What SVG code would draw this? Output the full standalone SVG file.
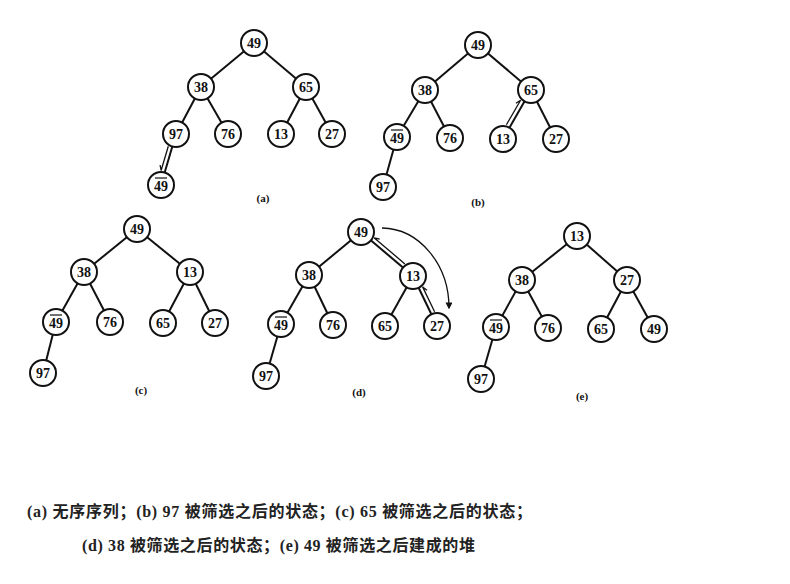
<svg xmlns="http://www.w3.org/2000/svg" width="790" height="584" viewBox="0 0 790 584">
<style>
.bg{fill:#ffffff}
.n circle{fill:#ffffff;stroke:#111;stroke-width:2}
.n text{font-family:"Liberation Serif","DejaVu Serif",serif;font-size:14px;font-weight:bold;fill:#111;text-anchor:middle;dominant-baseline:central}
.n line{stroke:#111;stroke-width:1.2}
.e line,.e path{stroke:#111;stroke-width:2;fill:none}
.e .thin{stroke-width:1.3}
.lbl{font-family:"Liberation Serif","DejaVu Serif",serif;font-size:11px;font-weight:bold;fill:#111;text-anchor:middle}
.cap{font-family:"Liberation Serif","Noto Sans CJK SC",serif;font-size:16px;font-weight:bold;fill:#222}
</style>
<defs>
<marker id="ah" viewBox="0 0 10 10" refX="8" refY="5" markerWidth="7" markerHeight="7" orient="auto" markerUnits="userSpaceOnUse"><path d="M0,0 L10,5 L0,10 z" fill="#111"/></marker>
</defs>
<rect class="bg" x="0" y="0" width="790" height="584"/>

<!-- connectors -->
<g id="connectors" class="e">
  <!-- (a) -->
  <line x1="254" y1="43" x2="201" y2="87"/>
  <line x1="254" y1="43" x2="306" y2="87"/>
  <line x1="201" y1="87" x2="176" y2="134"/>
  <line x1="201" y1="87" x2="228" y2="134"/>
  <line x1="306" y1="87" x2="281" y2="134"/>
  <line x1="306" y1="87" x2="332" y2="134"/>
  <line x1="176" y1="134" x2="161" y2="185"/>
  <path class="thin" d="M168.3,146.3 L161.1,170.5 L160.1,165"/>
  <!-- (b) -->
  <line x1="478" y1="45" x2="425" y2="90"/>
  <line x1="478" y1="45" x2="531" y2="90"/>
  <line x1="425" y1="90" x2="397" y2="137"/>
  <line x1="425" y1="90" x2="450" y2="138"/>
  <line x1="531" y1="90" x2="503" y2="139"/>
  <line x1="531" y1="90" x2="556" y2="139"/>
  <line x1="397" y1="137" x2="383" y2="187"/>
  <path class="thin" d="M506.4,124.8 L520.6,100.2 L515.9,103.3"/>
  <!-- (c) -->
  <line x1="137" y1="229" x2="84" y2="272"/>
  <line x1="137" y1="229" x2="190" y2="272"/>
  <line x1="84" y1="272" x2="56" y2="322"/>
  <line x1="84" y1="272" x2="110" y2="322"/>
  <line x1="190" y1="272" x2="163" y2="323"/>
  <line x1="190" y1="272" x2="215" y2="323"/>
  <line x1="56" y1="322" x2="43" y2="373"/>
  <!-- (d) -->
  <line x1="361" y1="232" x2="309" y2="275"/>
  <line x1="361" y1="232" x2="413" y2="276"/>
  <line x1="309" y1="275" x2="281" y2="324"/>
  <line x1="309" y1="275" x2="333" y2="325"/>
  <line x1="413" y1="276" x2="385" y2="326"/>
  <line x1="413" y1="276" x2="437" y2="326"/>
  <line x1="281" y1="324" x2="266" y2="376"/>
  <path class="thin" d="M379.7,239.2 L374.3,237.9 L404.9,263.9"/>
  <path class="thin" d="M427,290.3 L422.6,286.9 L434.6,311.7"/>
  <path class="thin" d="M382,228 A68,80 0 0 1 449,308" marker-end="url(#ah)"/>
  <!-- (e) -->
  <line x1="577" y1="236" x2="522" y2="280"/>
  <line x1="577" y1="236" x2="627" y2="280"/>
  <line x1="522" y1="280" x2="496" y2="327"/>
  <line x1="522" y1="280" x2="548" y2="328"/>
  <line x1="627" y1="280" x2="601" y2="329"/>
  <line x1="627" y1="280" x2="654" y2="329"/>
  <line x1="496" y1="327" x2="481" y2="379"/>
</g>

<!-- (a) nodes -->
<g id="a49" class="n"><circle cx="254" cy="43" r="13"/><text x="254" y="43">49</text></g>
<g id="a38" class="n"><circle cx="201" cy="87" r="13"/><text x="201" y="87">38</text></g>
<g id="a65" class="n"><circle cx="306" cy="87" r="13"/><text x="306" y="87">65</text></g>
<g id="a97" class="n"><circle cx="176" cy="134" r="13"/><text x="176" y="134">97</text></g>
<g id="a76" class="n"><circle cx="228" cy="134" r="13"/><text x="228" y="134">76</text></g>
<g id="a13" class="n"><circle cx="281" cy="134" r="13"/><text x="281" y="134">13</text></g>
<g id="a27" class="n"><circle cx="332" cy="134" r="13"/><text x="332" y="134">27</text></g>
<g id="a49b" class="n"><circle cx="161" cy="185" r="13"/><text x="161" y="186">49</text><line x1="155" y1="178" x2="167" y2="178"/></g>
<text class="lbl" x="263" y="202">(a)</text>

<!-- (b) nodes -->
<g id="b49" class="n"><circle cx="478" cy="45" r="13"/><text x="478" y="45">49</text></g>
<g id="b38" class="n"><circle cx="425" cy="90" r="13"/><text x="425" y="90">38</text></g>
<g id="b65" class="n"><circle cx="531" cy="90" r="13"/><text x="531" y="90">65</text></g>
<g id="b49b" class="n"><circle cx="397" cy="137" r="13"/><text x="397" y="138">49</text><line x1="391" y1="130" x2="403" y2="130"/></g>
<g id="b76" class="n"><circle cx="450" cy="138" r="13"/><text x="450" y="138">76</text></g>
<g id="b13" class="n"><circle cx="503" cy="139" r="13"/><text x="503" y="139">13</text></g>
<g id="b27" class="n"><circle cx="556" cy="139" r="13"/><text x="556" y="139">27</text></g>
<g id="b97" class="n"><circle cx="383" cy="187" r="13"/><text x="383" y="187">97</text></g>
<text class="lbl" x="478" y="206">(b)</text>

<!-- (c) nodes -->
<g id="c49" class="n"><circle cx="137" cy="229" r="13"/><text x="137" y="229">49</text></g>
<g id="c38" class="n"><circle cx="84" cy="272" r="13"/><text x="84" y="272">38</text></g>
<g id="c13" class="n"><circle cx="190" cy="272" r="13"/><text x="190" y="272">13</text></g>
<g id="c49b" class="n"><circle cx="56" cy="322" r="13"/><text x="56" y="323">49</text><line x1="50" y1="315" x2="62" y2="315"/></g>
<g id="c76" class="n"><circle cx="110" cy="322" r="13"/><text x="110" y="322">76</text></g>
<g id="c65" class="n"><circle cx="163" cy="323" r="13"/><text x="163" y="323">65</text></g>
<g id="c27" class="n"><circle cx="215" cy="323" r="13"/><text x="215" y="323">27</text></g>
<g id="c97" class="n"><circle cx="43" cy="373" r="13"/><text x="43" y="373">97</text></g>
<text class="lbl" x="141" y="394">(c)</text>

<!-- (d) nodes -->
<g id="d49" class="n"><circle cx="361" cy="232" r="13"/><text x="361" y="232">49</text></g>
<g id="d38" class="n"><circle cx="309" cy="275" r="13"/><text x="309" y="275">38</text></g>
<g id="d13" class="n"><circle cx="413" cy="276" r="13"/><text x="413" y="276">13</text></g>
<g id="d49b" class="n"><circle cx="281" cy="324" r="13"/><text x="281" y="325">49</text><line x1="275" y1="317" x2="287" y2="317"/></g>
<g id="d76" class="n"><circle cx="333" cy="325" r="13"/><text x="333" y="325">76</text></g>
<g id="d65" class="n"><circle cx="385" cy="326" r="13"/><text x="385" y="326">65</text></g>
<g id="d27" class="n"><circle cx="437" cy="326" r="13"/><text x="437" y="326">27</text></g>
<g id="d97" class="n"><circle cx="266" cy="376" r="13"/><text x="266" y="376">97</text></g>
<text class="lbl" x="359" y="396">(d)</text>

<!-- (e) nodes -->
<g id="e13" class="n"><circle cx="577" cy="236" r="13"/><text x="577" y="236">13</text></g>
<g id="e38" class="n"><circle cx="522" cy="280" r="13"/><text x="522" y="280">38</text></g>
<g id="e27" class="n"><circle cx="627" cy="280" r="13"/><text x="627" y="280">27</text></g>
<g id="e49b" class="n"><circle cx="496" cy="327" r="13"/><text x="496" y="328">49</text><line x1="490" y1="320" x2="502" y2="320"/></g>
<g id="e76" class="n"><circle cx="548" cy="328" r="13"/><text x="548" y="328">76</text></g>
<g id="e65" class="n"><circle cx="601" cy="329" r="13"/><text x="601" y="329">65</text></g>
<g id="e49" class="n"><circle cx="654" cy="329" r="13"/><text x="654" y="329">49</text></g>
<g id="e97" class="n"><circle cx="481" cy="379" r="13"/><text x="481" y="379">97</text></g>
<text class="lbl" x="582" y="400">(e)</text>

<!-- caption -->
<text class="cap" x="27" y="517" textLength="505" lengthAdjust="spacing">(a) 无序序列；(b) 97 被筛选之后的状态；(c) 65 被筛选之后的状态；</text>
<text class="cap" x="82" y="551" textLength="393" lengthAdjust="spacing">(d) 38 被筛选之后的状态；(e) 49 被筛选之后建成的堆</text>
</svg>
